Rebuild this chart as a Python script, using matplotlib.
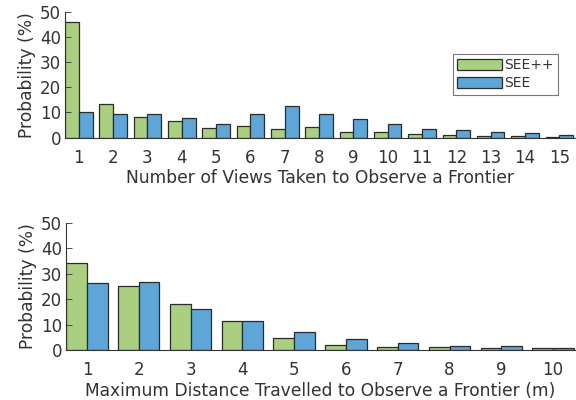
import numpy as np
import matplotlib
matplotlib.use("Agg")
import matplotlib.pyplot as plt

# Number of views taken to observe a frontier
views = list(range(1, 16))
views_see_pp = [45.9, 13.2, 8.0, 6.7, 3.8, 4.6, 3.6, 4.4, 2.3, 2.1, 1.3, 0.9, 0.6, 0.5, 0.1]
views_see = [10.2, 9.3, 9.3, 7.6, 5.4, 9.3, 12.4, 9.4, 7.3, 5.4, 3.4, 3.0, 2.1, 1.7, 0.9]

# Maximum distance travelled to observe a frontier (m)
dist = list(range(1, 11))
dist_see_pp = [34.3, 25.3, 17.9, 11.5, 4.7, 2.1, 1.2, 1.0, 0.6, 0.6]
dist_see = [26.3, 26.7, 16.1, 11.5, 7.1, 4.3, 2.7, 1.7, 1.4, 0.8]

labels = ["SEE++", "SEE"]
green = "#abcf81"
blue = "#5fa6d8"
edge = "#2b2b2b"
text_color = "#333333"

plt.rcParams["font.family"] = "DejaVu Sans"

fig = plt.figure(figsize=(5.76, 4.0), dpi=100)
ax1 = fig.add_axes([0.113, 0.656, 0.885, 0.315])
ax2 = fig.add_axes([0.115, 0.125, 0.883, 0.318])

w = 0.4


def draw(ax, x, a, b, xlabel, xlim):
    x = np.asarray(x, dtype=float)
    ax.bar(x - w / 2, a, width=w, color=green, edgecolor=edge, linewidth=0.9, label=labels[0])
    ax.bar(x + w / 2, b, width=w, color=blue, edgecolor=edge, linewidth=0.9, label=labels[1])
    ax.set_xlim(*xlim)
    ax.set_ylim(0, 50)
    ax.set_yticks([0, 10, 20, 30, 40, 50])
    ax.set_xticks(x)
    ax.set_xticklabels([str(int(v)) for v in x])
    ax.spines["top"].set_visible(False)
    ax.spines["right"].set_visible(False)
    for s in ("left", "bottom"):
        ax.spines[s].set_color(text_color)
        ax.spines[s].set_linewidth(0.8)
    ax.tick_params(axis="y", direction="in", length=4, width=0.6, colors=text_color,
                   labelsize=12, pad=3)
    ax.tick_params(axis="x", direction="in", length=0, colors=text_color,
                   labelsize=12, pad=8)
    ax.set_ylabel("Probability (%)", fontsize=12.3, color=text_color, labelpad=3)
    ax.set_xlabel(xlabel, fontsize=12.3, color=text_color, labelpad=2)


draw(ax1, views, views_see_pp, views_see,
     "Number of Views Taken to Observe a Frontier", (0.6, 15.45))
draw(ax2, dist, dist_see_pp, dist_see,
     "Maximum Distance Travelled to Observe a Frontier (m)", (0.6, 10.42))

leg = ax1.legend(loc="upper left", bbox_to_anchor=(0.760, 0.663), fontsize=10,
                 frameon=True, fancybox=False, handlelength=3.25, handleheight=0.88,
                 handletextpad=0.15, borderpad=0.3, labelspacing=0.3,
                 borderaxespad=0.0)
leg.get_frame().set_edgecolor("#555555")
leg.get_frame().set_linewidth(0.8)
for t in leg.get_texts():
    t.set_color(text_color)

fig.savefig("out.png", dpi=100)
